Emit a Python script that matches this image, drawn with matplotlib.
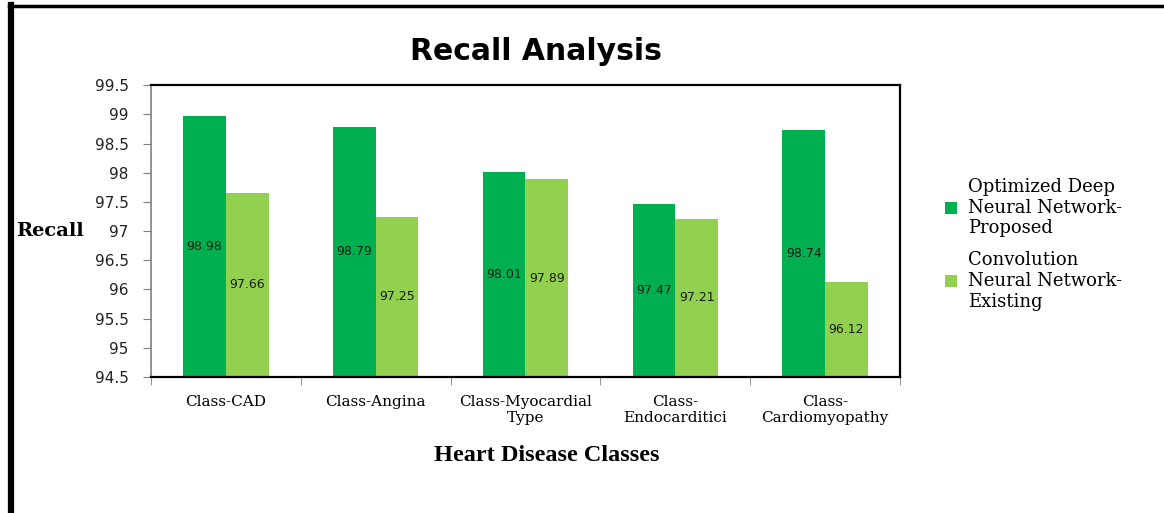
import numpy as np
import matplotlib.pyplot as plt
from matplotlib.lines import Line2D

# chart data
classes = ['Class-CAD', 'Class-Angina', 'Class-Myocardial\nType',
           'Class-\nEndocarditici', 'Class-\nCardiomyopathy']
proposed = [98.98, 98.79, 98.01, 97.47, 98.74]
existing = [97.66, 97.25, 97.89, 97.21, 96.12]
series_names = ['Optimized Deep\nNeural Network-\nProposed',
                'Convolution\nNeural Network-\nExisting']
y_ticks = [94.5, 95, 95.5, 96, 96.5, 97, 97.5, 98, 98.5, 99, 99.5]

dark_green = '#00B050'
light_green = '#92D050'

fig = plt.figure(figsize=(11.64, 5.13), dpi=100)
ax = fig.add_axes([0.1297, 0.265, 0.6435, 0.569])

x = np.arange(len(classes))
w = 0.285
b1 = ax.bar(x - w / 2, proposed, w, color=dark_green, label=series_names[0])
b2 = ax.bar(x + w / 2, existing, w, color=light_green, label=series_names[1])

ymin = 94.5
for bars, vals in [(b1, proposed), (b2, existing)]:
    for rect, v in zip(bars, vals):
        ax.text(rect.get_x() + rect.get_width() / 2, (ymin + v) / 2, f'{v:.2f}',
                ha='center', va='center', fontsize=9, color='#1a1a1a',
                family='DejaVu Sans')

ax.set_ylim(94.5, 99.5)
ax.set_xlim(-0.5, len(classes) - 0.5)
ax.set_yticks(y_ticks)
ax.set_yticklabels([f'{t:g}' for t in y_ticks], fontsize=11, color='#222222')
ax.tick_params(axis='y', direction='out', length=6, color='#808080', pad=10)

# category labels at centres, tick marks at boundaries
ax.set_xticks(x)
ax.set_xticklabels(classes, fontsize=11, family='DejaVu Serif', linespacing=1.15)
ax.tick_params(axis='x', which='major', length=0, pad=13)
ax.set_xticks(np.arange(-0.5, len(classes)), minor=True)
ax.tick_params(axis='x', which='minor', direction='out', length=6, color='#808080')

for side in ['top', 'right', 'bottom']:
    ax.spines[side].set_color('black')
    ax.spines[side].set_linewidth(1.6)
ax.spines['left'].set_color('#808080')
ax.spines['left'].set_linewidth(1.2)

fig.text(0.46, 0.899, 'Recall Analysis', ha='center', va='center',
         fontsize=21.5, fontweight='bold', family='DejaVu Sans')
fig.text(0.043, 0.55, 'Recall', ha='center', va='center',
         fontsize=14, fontweight='bold', family='DejaVu Serif')
fig.text(0.47, 0.113, 'Heart Disease Classes', ha='center', va='center',
         fontsize=17.5, fontweight='bold', family='Liberation Serif')

leg = fig.legend(loc='upper left', bbox_to_anchor=(0.798, 0.685), frameon=False,
                 prop={'family': 'DejaVu Serif', 'size': 13},
                 handlelength=0.65, handleheight=0.65, handletextpad=0.6,
                 labelspacing=0.75)

# outer frame of the original picture
fig.add_artist(Line2D([0.0095, 0.0095], [0, 0.99], color='black', lw=4.5,
                      transform=fig.transFigure))
fig.add_artist(Line2D([0.0075, 1], [0.989, 0.989], color='black', lw=2.5,
                      transform=fig.transFigure))

plt.savefig('out.png', dpi=100)
